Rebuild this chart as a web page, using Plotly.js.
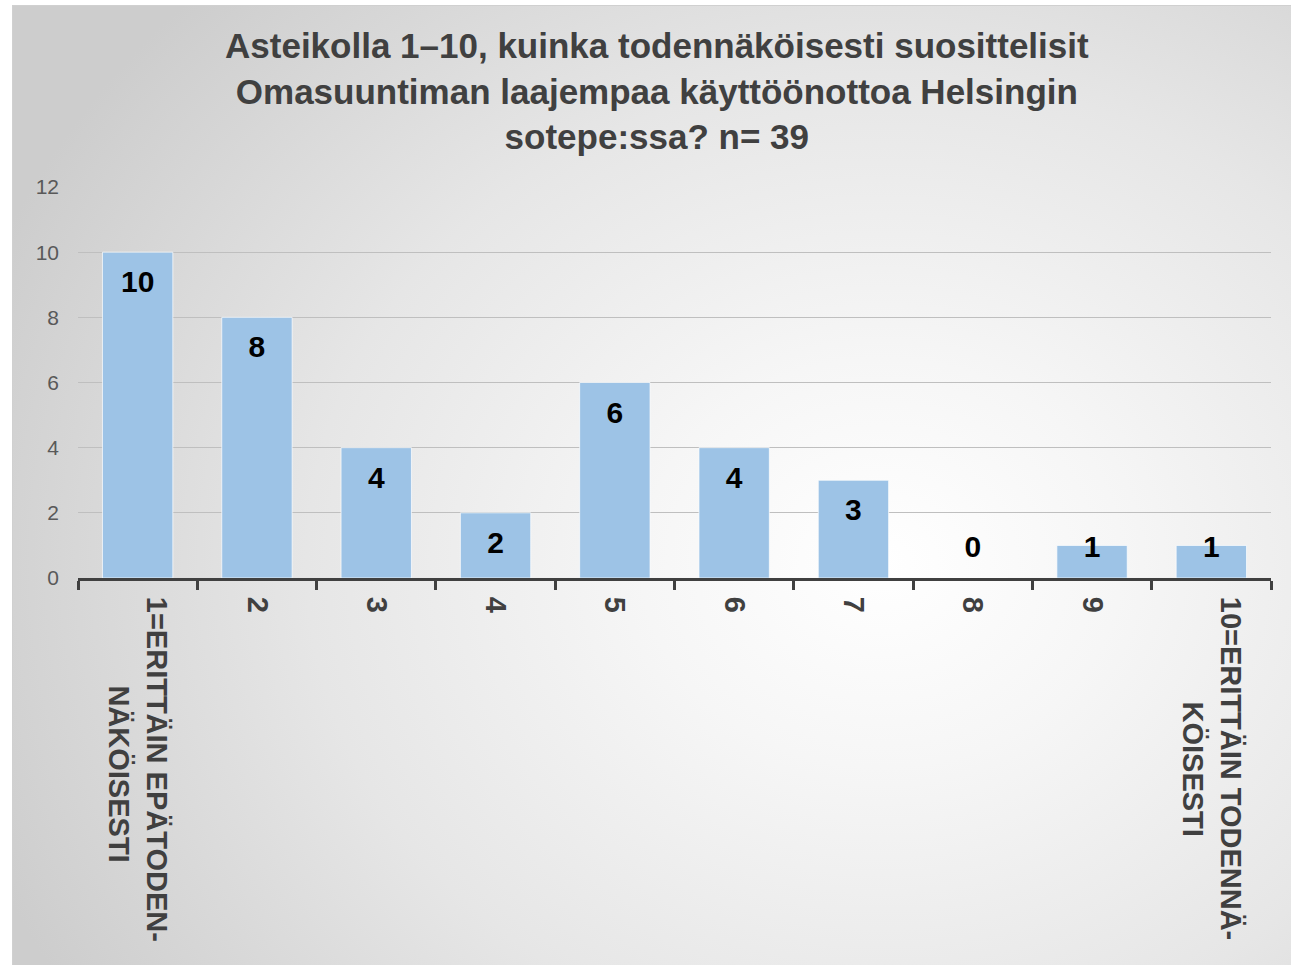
<!DOCTYPE html>
<html>
<head>
<meta charset="utf-8">
<script src="https://cdn.plot.ly/plotly-3.0.1.min.js"></script>
<style>
  html, body { margin: 0; padding: 0; background: #ffffff; }
  #frame {
    position: absolute; left: 12px; top: 5px; width: 1278px; height: 960px;
    background: radial-gradient(ellipse 75% 85% at 68% 58%, #ffffff 0%, #f6f6f6 25%, #e6e6e6 60%, #cdcdcd 100%);
    border-top: 1px solid #d0d0d0; border-left: 1px solid #d0d0d0;
  }
  #chart { position: absolute; left: 0; top: 0; width: 1293px; height: 965px; }
</style>
</head>
<body>
<div id="frame"></div>
<div id="chart"></div>
<script>
// Data
const categories = ["1", "2", "3", "4", "5", "6", "7", "8", "9", "10"];
const tickLabels = [
  "1=ERITTÄIN EPÄTODEN-<br>" + "\u00a0".repeat(11) + "NÄKÖISESTI",
  "2", "3", "4", "5", "6", "7", "8", "9",
  "10=ERITTÄIN TODENNÄ-<br>" + "\u00a0".repeat(13) + "KÖISESTI"
];
const counts = [10, 8, 4, 2, 6, 4, 3, 0, 1, 1];
const titleText = "Asteikolla 1–10, kuinka todennäköisesti suosittelisit<br>Omasuuntiman laajempaa käyttöönottoa Helsingin<br>sotepe:ssa? n= 39";

// label placement inside bar tops (derived from values)
const labelY = counts.map(v => Math.max(v - 1.0, 0.86));

const font = "Liberation Sans, Arial, sans-serif";

const bars = {
  type: "bar",
  x: categories,
  y: counts,
  marker: { color: "#9DC3E6", line: { color: "rgba(255,255,255,0.7)", width: 1 } },
  hoverinfo: "skip"
};
const labels = {
  type: "scatter",
  mode: "text",
  x: categories,
  y: labelY,
  text: counts.map(String),
  textposition: "middle center",
  textfont: { family: font, size: 30, color: "#000000", weight: "bold" },
  hoverinfo: "skip"
};

const layout = {
  width: 1293, height: 965,
  paper_bgcolor: "rgba(0,0,0,0)",
  plot_bgcolor: "rgba(0,0,0,0)",
  showlegend: false,
  bargap: 0.41,
  margin: { l: 78, r: 22, t: 187, b: 387 },
  title: {
    text: "<b>" + titleText + "</b>",
    font: { family: font, size: 35, color: "#404040" },
    x: 0.508, xanchor: "center",
    y: 1 - 58 / 965, yanchor: "top", yref: "container"
  },
  xaxis: {
    type: "category",
    tickmode: "array",
    tickvals: categories,
    ticktext: tickLabels,
    tickangle: 90,
    tickfont: { family: font, size: 29, color: "#404040", weight: "bold" },
    ticklabelstandoff: 10,
    showline: true, linecolor: "#404040", linewidth: 3,
    ticks: "outside", tickson: "boundaries", ticklen: 9, tickwidth: 3, tickcolor: "#404040",
    showgrid: false, zeroline: false,
    fixedrange: true
  },
  yaxis: {
    range: [0, 12],
    dtick: 2,
    tickfont: { family: font, size: 21, color: "#595959" },
    showline: false, ticks: "", zeroline: false,
    showgrid: true, gridcolor: "#bfbfbf", gridwidth: 1.3,
    ticklabelstandoff: 18,
    fixedrange: true
  }
};

Plotly.newPlot("chart", [bars, labels], layout, { displayModeBar: false, staticPlot: true });
</script>
</body>
</html>
